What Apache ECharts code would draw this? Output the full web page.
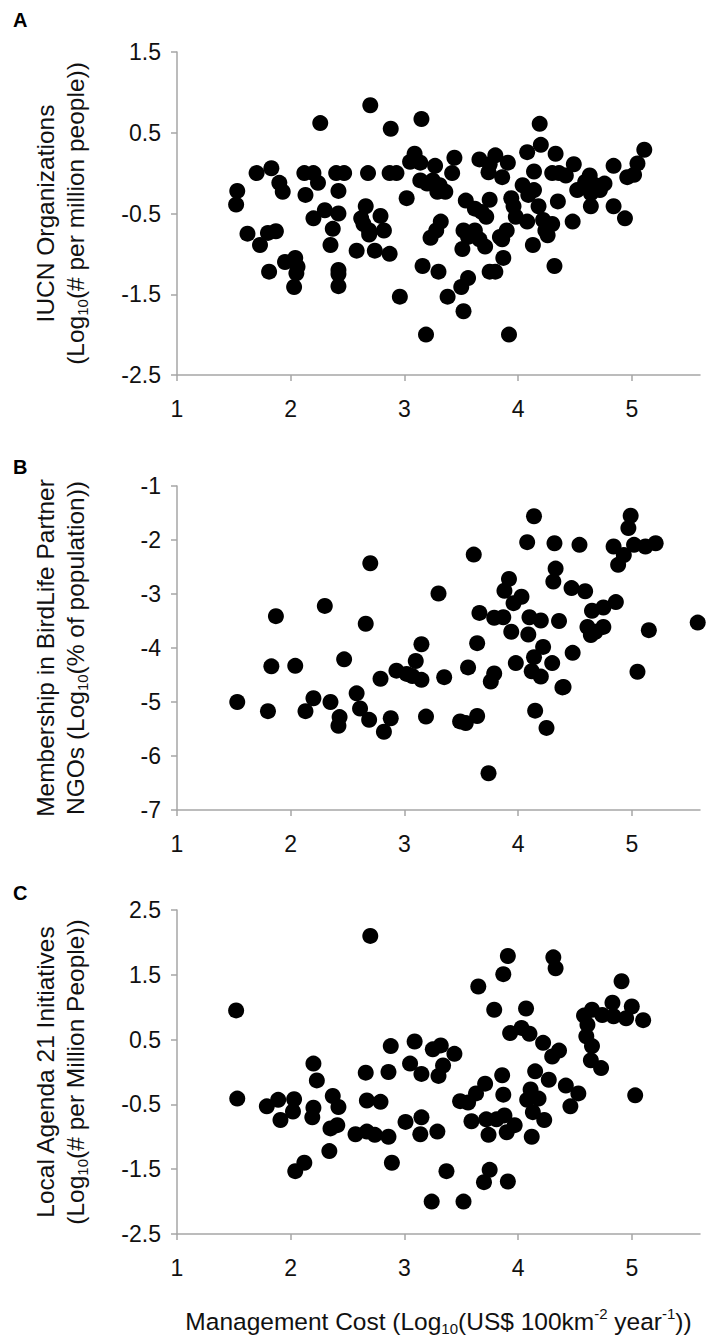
<!DOCTYPE html>
<html>
<head>
<meta charset="utf-8">
<script src="https://cdn.jsdelivr.net/npm/echarts@6/dist/echarts.min.js"></script>
<style>
html,body{margin:0;padding:0;background:#fff;}
#c{width:712px;height:1340px;}
</style>
</head>
<body>
<div id="c"></div>
<script>
// Panel A: IUCN Organizations vs Management Cost
const costA = [2.70,2.26,3.15,2.88,4.19,4.20,5.11,4.08,4.33,3.80,3.44,3.09,3.05,3.14,3.66,3.91,4.84,4.49,5.05,3.75,3.74,3.27,1.83,1.70,2.12,2.20,2.40,2.47,2.68,2.87,2.93,3.42,4.14,4.30,4.42,4.36,4.96,5.02,4.63,3.86,2.24,1.90,1.93,3.14,3.25,3.31,3.20,3.29,3.36,4.04,4.14,4.52,4.60,4.68,4.76,4.64,4.72,4.09,1.53,1.52,2.13,2.42,3.02,3.54,3.75,3.94,4.35,4.18,4.64,4.84,2.66,3.62,3.96,2.30,2.42,2.20,2.62,2.79,3.68,3.72,3.98,4.08,4.22,4.30,4.48,4.94,3.32,3.52,2.64,2.69,2.82,2.37,3.28,3.23,3.62,3.56,3.90,3.84,4.24,4.26,1.62,1.80,1.87,2.69,3.66,1.73,2.35,3.51,3.71,4.13,3.86,2.58,2.74,2.87,3.87,2.04,1.95,2.06,2.42,3.16,1.81,2.05,2.42,3.30,4.32,3.75,3.80,3.56,3.50,2.03,2.42,2.96,3.38,3.52,3.19,3.92,4.59];
const iucnA = [0.84,0.62,0.67,0.55,0.61,0.35,0.29,0.26,0.24,0.22,0.19,0.24,0.14,0.13,0.17,0.13,0.09,0.11,0.12,0.11,0.01,0.09,0.06,0.00,0.00,0.00,0.00,0.00,0.00,0.00,0.00,0.00,0.02,0.00,-0.03,0.00,-0.05,-0.02,-0.03,-0.05,-0.12,-0.12,-0.23,-0.09,-0.09,-0.15,-0.13,-0.23,-0.23,-0.15,-0.21,-0.21,-0.17,-0.15,-0.13,-0.25,-0.21,-0.27,-0.22,-0.39,-0.27,-0.22,-0.31,-0.34,-0.33,-0.31,-0.35,-0.41,-0.41,-0.41,-0.41,-0.44,-0.41,-0.46,-0.50,-0.56,-0.56,-0.53,-0.48,-0.54,-0.54,-0.60,-0.58,-0.63,-0.60,-0.56,-0.60,-0.71,-0.63,-0.71,-0.71,-0.69,-0.71,-0.80,-0.71,-0.79,-0.71,-0.79,-0.71,-0.77,-0.75,-0.74,-0.72,-0.76,-0.82,-0.89,-0.89,-0.94,-0.91,-0.89,-0.82,-0.96,-0.96,-1.00,-1.05,-1.05,-1.10,-1.16,-1.20,-1.15,-1.22,-1.24,-1.25,-1.22,-1.15,-1.22,-1.22,-1.30,-1.41,-1.41,-1.40,-1.53,-1.53,-1.71,-2.00,-2.00,-0.11];

// Panel B: BirdLife Partner NGO membership vs Management Cost
const costB = [2.70,2.30,1.87,2.66,1.83,2.04,2.47,2.79,1.53,1.80,2.13,2.20,2.35,2.43,2.42,2.58,2.61,2.69,2.82,2.88,
  4.14,4.08,4.32,4.54,3.61,4.33,4.31,3.92,3.88,4.47,4.59,3.30,4.03,3.96,4.65,3.66,3.79,3.87,4.10,4.20,4.36,3.94,4.09,4.61,4.64,3.15,3.64,4.22,4.48,3.10,4.14,3.98,4.30,4.12,4.20,4.39,3.56,3.79,3.76,3.35,2.93,3.02,3.07,3.15,3.19,3.49,3.54,3.64,4.15,4.25,3.74,
  4.99,4.97,4.84,5.02,5.12,5.21,4.93,4.88,4.86,4.75,4.75,5.15,5.58,5.05,4.40,4.68];
const membB = [-2.43,-3.22,-3.41,-3.55,-4.34,-4.33,-4.21,-4.57,-5.00,-5.17,-5.17,-4.93,-5.00,-5.28,-5.44,-4.84,-5.12,-5.33,-5.55,-5.30,
  -1.56,-2.04,-2.06,-2.09,-2.27,-2.53,-2.77,-2.72,-2.94,-2.89,-2.95,-2.99,-3.05,-3.17,-3.31,-3.35,-3.44,-3.43,-3.43,-3.49,-3.50,-3.70,-3.75,-3.61,-3.76,-3.93,-3.91,-3.98,-4.09,-4.24,-4.17,-4.28,-4.28,-4.43,-4.53,-4.73,-4.36,-4.47,-4.62,-4.54,-4.42,-4.48,-4.52,-4.59,-5.27,-5.36,-5.39,-5.26,-5.16,-5.48,-6.32,
  -1.55,-1.78,-2.12,-2.09,-2.12,-2.06,-2.28,-2.46,-3.15,-3.25,-3.61,-3.67,-3.53,-4.44,-4.72,-3.70];

// Panel C: Local Agenda 21 Initiatives vs Management Cost
const costC = [2.70,1.52,1.53,1.79,1.89,2.03,2.02,1.91,2.20,2.23,2.20,2.19,2.37,2.42,2.35,2.41,2.34,2.12,2.04,2.66,2.67,2.79,2.57,2.67,2.74,2.86,2.88,2.86,2.89,
  3.91,3.87,4.31,4.33,3.65,3.79,4.07,3.93,4.03,4.10,4.22,4.36,4.30,4.58,4.65,4.60,4.65,4.64,3.09,3.25,3.32,3.44,3.05,3.15,3.34,3.30,4.15,4.27,4.42,4.53,4.46,4.11,4.18,4.08,4.13,4.23,4.12,3.86,3.71,3.87,3.63,3.49,3.56,3.59,3.72,3.81,3.88,3.97,3.74,3.90,3.75,3.70,3.91,3.52,3.24,3.37,3.01,3.15,3.14,3.29,
  4.91,4.83,5.00,5.10,4.95,4.84,4.74,4.61,4.73,5.03];
const la21C = [2.10,0.95,-0.41,-0.53,-0.43,-0.42,-0.61,-0.74,0.13,-0.13,-0.55,-0.70,-0.37,-0.54,-0.87,-0.82,-1.22,-1.40,-1.53,-0.01,-0.44,-0.46,-0.96,-0.92,-0.97,-1.00,0.40,0.00,-1.40,
  1.79,1.51,1.77,1.60,1.32,0.96,0.98,0.60,0.68,0.59,0.45,0.33,0.24,0.87,0.96,0.55,0.40,0.18,0.47,0.35,0.41,0.28,0.13,-0.03,0.10,-0.06,0.01,-0.12,-0.21,-0.33,-0.53,-0.27,-0.41,-0.43,-0.62,-0.74,-1.00,-0.05,-0.18,-0.35,-0.33,-0.45,-0.47,-0.76,-0.73,-0.73,-0.67,-0.82,-0.97,-0.93,-1.51,-1.70,-1.69,-2.00,-2.00,-1.53,-0.77,-0.70,-0.96,-0.92,
  1.40,1.07,1.01,0.80,0.83,0.86,0.88,0.73,0.06,-0.36];

const xTicks = [1,2,3,4,5];
const panelLetters = ['A','B','C'];

const FONT = "'Liberation Sans', Arial, sans-serif";
const TICK_FS = 23, TITLE_FS = 24.5, SUB_FS = 15;
const AXIS_COLOR = '#a6a6a6', TEXT_COLOR = '#111';

const rich = {
  t: {fontSize: TITLE_FS, fontFamily: FONT, color: TEXT_COLOR, lineHeight: 30},
  sub: {fontSize: SUB_FS, fontFamily: FONT, color: TEXT_COLOR, lineHeight: 16, verticalAlign: 'bottom'},
  sup: {fontSize: SUB_FS, fontFamily: FONT, color: TEXT_COLOR, lineHeight: 16, verticalAlign: 'top'}
};

const grids = [
  {left: 177, right: 12, top: 52, height: 323},
  {left: 177, right: 12, top: 486, height: 324},
  {left: 177, right: 12, top: 910, height: 324}
];

function xAxisOf(i, withName) {
  const ax = {
    type: 'value', gridIndex: i, min: 1, max: 5.6,
    axisLine: {onZero: false, lineStyle: {color: AXIS_COLOR, width: 1.5}},
    axisTick: {show: true, length: 6, lineStyle: {color: AXIS_COLOR, width: 1.5}, customValues: xTicks},
    axisLabel: {customValues: xTicks, fontSize: TICK_FS, fontFamily: FONT, color: TEXT_COLOR, margin: 22},
    splitLine: {show: false}
  };
  if (withName) {
    ax.name = '{t|Management Cost (Log}{sub|10}{t|(US$ 100km}{sup|-2}{t| year}{sup|-1}{t|))}';
    ax.nameLocation = 'middle';
    ax.nameGap = 72;
    ax.nameTextStyle = {rich: rich, fontFamily: FONT};
  }
  return ax;
}
function yAxisOf(i, min, max, name) {
  return {
    type: 'value', gridIndex: i, min: min, max: max, interval: 1,
    axisLine: {show: true, onZero: false, lineStyle: {color: AXIS_COLOR, width: 1.5}},
    axisTick: {show: true, length: 6, lineStyle: {color: AXIS_COLOR, width: 1.5}},
    axisLabel: {fontSize: TICK_FS, fontFamily: FONT, color: TEXT_COLOR, margin: 16},
    splitLine: {show: false},
    name: name, nameLocation: 'middle', nameRotate: 90, nameGap: 87,
    nameTextStyle: {rich: rich, fontFamily: FONT}
  };
}

const yNames = [
  '{t|IUCN Organizations}\n{t|(Log}{sub|10}{t|(# per million people))}',
  '{t|Membership in BirdLife Partner}\n{t|NGOs (Log}{sub|10}{t|(% of population))}',
  '{t|Local Agenda 21 Initiatives}\n{t|(Log}{sub|10}{t|(# per Million People))}'
];

function pairs(xs, ys) { return xs.map((x, k) => [x, ys[k]]); }

const chart = echarts.init(document.getElementById('c'), null, {renderer: 'svg'});
chart.setOption({
  animation: false,
  backgroundColor: '#fff',
  grid: grids,
  xAxis: [xAxisOf(0,false), xAxisOf(1,false), xAxisOf(2,true)],
  yAxis: [
    yAxisOf(0, -2.5, 1.5, yNames[0]),
    yAxisOf(1, -7, -1, yNames[1]),
    yAxisOf(2, -2.5, 2.5, yNames[2])
  ],
  series: [
    {type: 'scatter', xAxisIndex: 0, yAxisIndex: 0, data: pairs(costA, iucnA)},
    {type: 'scatter', xAxisIndex: 1, yAxisIndex: 1, data: pairs(costB, membB)},
    {type: 'scatter', xAxisIndex: 2, yAxisIndex: 2, data: pairs(costC, la21C)}
  ].map(s => Object.assign(s, {symbol: 'circle', symbolSize: 16, itemStyle: {color: '#000', opacity: 1}, emphasis: {disabled: true}})),
  graphic: [
    {type: 'text', left: 13, top: 10, style: {text: panelLetters[0], font: 'bold 20px ' + FONT, fill: '#000'}},
    {type: 'text', left: 13, top: 457, style: {text: panelLetters[1], font: 'bold 20px ' + FONT, fill: '#000'}},
    {type: 'text', left: 13, top: 883, style: {text: panelLetters[2], font: 'bold 20px ' + FONT, fill: '#000'}}
  ]
});
</script>
</body>
</html>
